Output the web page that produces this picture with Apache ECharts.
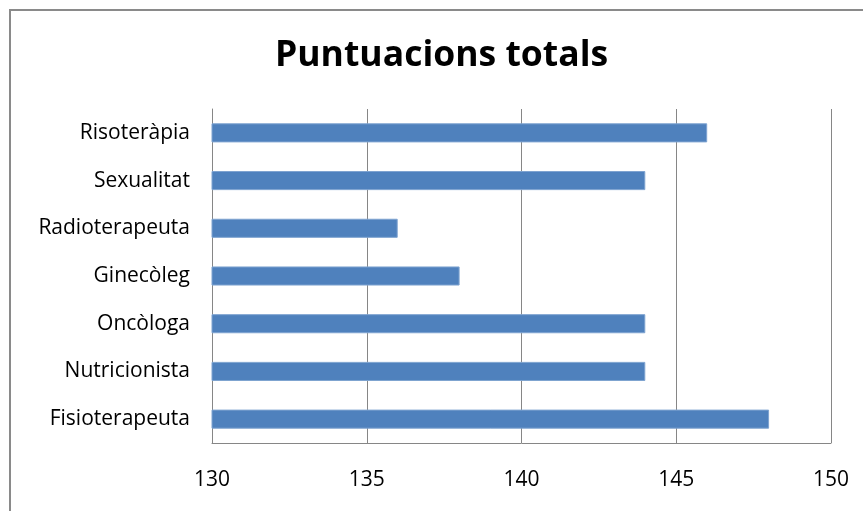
<!DOCTYPE html>
<html>
<head>
<meta charset="utf-8">
<script src="https://cdn.jsdelivr.net/npm/echarts@6/dist/echarts.min.js"></script>
<style>
  html, body { margin: 0; padding: 0; background: #fff; }
  #chart { width: 863px; height: 511px; }
</style>
</head>
<body>
<div id="chart"></div>
<script>
// Categories, listed bottom to top as they stack on the vertical axis
const categories = ['Fisioterapeuta', 'Nutricionista', 'Oncòloga', 'Ginecòleg', 'Radioterapeuta', 'Sexualitat', 'Risoteràpia'];
const scores = [148, 144, 144, 138, 136, 144, 146];
const axisMin = 130;
const axisMax = 150;
const axisStep = 5;

const chart = echarts.init(document.getElementById('chart'));
const font = '"Open Sans", Lato, sans-serif';

chart.setOption({
  animation: false,
  backgroundColor: '#ffffff',
  title: {
    text: 'Puntuacions totals',
    left: 270,
    top: 33,
    textStyle: { fontFamily: font, fontSize: 35.5, fontWeight: 'bold', color: '#000' }
  },
  graphic: [{
    type: 'rect',
    shape: { x: 10, y: 10, width: 900, height: 600 },
    style: { fill: 'none', stroke: '#8a8a8a', lineWidth: 2 },
    silent: true
  }],
  grid: { left: 212, right: 32, top: 109, bottom: 68, containLabel: false },
  xAxis: {
    type: 'value',
    min: axisMin,
    max: axisMax,
    interval: axisStep,
    axisLine: { show: true, lineStyle: { color: '#868686', width: 1 } },
    axisTick: { show: false },
    splitLine: { show: true, lineStyle: { color: '#868686', width: 1 } },
    axisLabel: { fontFamily: font, fontSize: 21, color: '#000', margin: 27 }
  },
  yAxis: {
    type: 'category',
    data: categories,
    axisLine: { show: true, lineStyle: { color: '#868686', width: 1 } },
    axisTick: { show: false },
    axisLabel: { fontFamily: font, fontSize: 21, color: '#000', margin: 22 }
  },
  series: [{
    type: 'bar',
    data: scores,
    barWidth: '40%',
    itemStyle: { color: '#4F81BD', borderColor: '#7EA3D0', borderWidth: 1 }
  }]
});
</script>
</body>
</html>
